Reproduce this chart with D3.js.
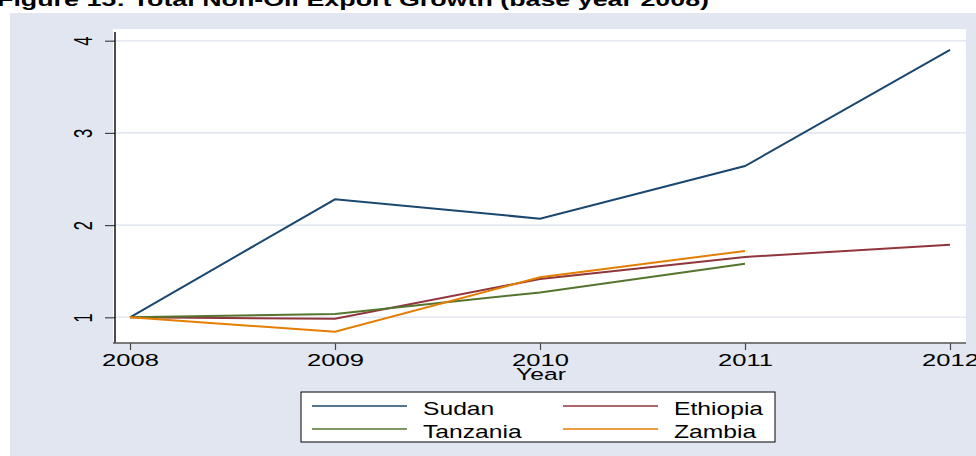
<!DOCTYPE html>
<html>
<head>
<meta charset="utf-8">
<script src="https://cdn.jsdelivr.net/npm/d3@7"></script>
<style>
  body { margin: 0; background: #fff; }
  svg { display: block; font-family: "Liberation Sans", Arial, sans-serif; }
</style>
</head>
<body>
<svg width="976" height="456"></svg>
<script>
// chart data
var years = [2008, 2009, 2010, 2011, 2012];
var yTicks = [1, 2, 3, 4];
var countries = ["Sudan", "Ethiopia", "Tanzania", "Zambia"];
var colors = ["#1a476f", "#90353b", "#55752f", "#e37e00"];
var sudan = [1.0, 2.28, 2.07, 2.64, 3.90];
var ethiopia = [1.0, 0.985, 1.415, 1.654, 1.787];
var tanzania = [1.0, 1.036, 1.27, 1.58, null];
var zambia = [1.0, 0.844, 1.434, 1.72, null];
var seriesValues = [sudan, ethiopia, tanzania, zambia];

var svg = d3.select("svg");
var stretch = 1.55; // the original picture is stretched sideways

// outer region
svg.append("rect").attr("x", 10).attr("y", 13).attr("width", 976).attr("height", 456)
  .attr("fill", "#e1e6f0");

// title, partly cut off at the top
svg.append("text")
  .attr("x", -3).attr("y", 6)
  .attr("font-size", 18).attr("font-weight", "bold")
  .attr("textLength", 712).attr("lengthAdjust", "spacingAndGlyphs")
  .text("Figure 15: Total Non-Oil Export Growth (base year 2008)");

var plot = {left: 113, right: 966, top: 29, bottom: 343};

var x = d3.scaleLinear().domain([2008, 2012]).range([130, 950]);
var y = d3.scaleLinear().domain([1, 4]).range([317.3, 40.7]);

// plot area
svg.append("rect")
  .attr("x", plot.left).attr("y", plot.top)
  .attr("width", plot.right - plot.left).attr("height", plot.bottom - plot.top)
  .attr("fill", "#fff");

// gridlines
svg.selectAll(".grid").data(yTicks).enter().append("line")
  .attr("x1", plot.left).attr("x2", plot.right)
  .attr("y1", function(d) { return y(d); }).attr("y2", function(d) { return y(d); })
  .attr("stroke", "#e3e8f2").attr("stroke-width", 1.6);

// y axis
var yAxis = svg.append("g")
  .attr("transform", "translate(115,0)")
  .call(d3.axisLeft(y).tickValues(yTicks).tickSize(10).tickFormat(""));
yAxis.select(".domain").remove();
yAxis.selectAll(".tick line").attr("stroke", "#444").attr("stroke-width", 1.2);
svg.append("line").attr("x1", 115).attr("x2", 115).attr("y1", plot.top + 3).attr("y2", plot.bottom)
  .attr("stroke", "#111").attr("stroke-width", 1.5);

yAxis.selectAll(".tick").append("text")
  .attr("transform", "translate(-23,0) scale(" + stretch + ",1) rotate(-90)")
  .attr("text-anchor", "middle")
  .attr("fill", "#000").attr("font-size", 16.5)
  .text(function(d) { return d; });

// x axis
var xAxis = svg.append("g")
  .attr("transform", "translate(0," + plot.bottom + ")")
  .call(d3.axisBottom(x).tickValues(years).tickSize(7).tickFormat(""));
xAxis.select(".domain").remove();
xAxis.selectAll(".tick line").attr("stroke", "#444").attr("stroke-width", 1.2);
svg.append("line").attr("x1", plot.left).attr("x2", plot.right).attr("y1", plot.bottom).attr("y2", plot.bottom)
  .attr("stroke", "#555").attr("stroke-width", 1.5);

xAxis.selectAll(".tick").append("text")
  .attr("transform", "translate(0,23) scale(" + stretch + ",1)")
  .attr("text-anchor", "middle")
  .attr("fill", "#000").attr("font-size", 16.5)
  .text(function(d) { return d; });

// axis title
svg.append("text")
  .attr("transform", "translate(541,380) scale(1.45,1)")
  .attr("text-anchor", "middle")
  .attr("font-size", 17)
  .text("Year");

// lines
var line = d3.line()
  .defined(function(d) { return d.v != null; })
  .x(function(d) { return x(d.year); })
  .y(function(d) { return y(d.v); });

seriesValues.forEach(function(vals, i) {
  var pts = years.map(function(yr, j) { return {year: yr, v: vals[j]}; });
  svg.append("path")
    .datum(pts)
    .attr("fill", "none")
    .attr("stroke", colors[i])
    .attr("stroke-width", 2)
    .attr("d", line);
});

// legend
svg.append("rect").attr("x", 301).attr("y", 392).attr("width", 474).attr("height", 50)
  .attr("fill", "#fff").attr("stroke", "#000").attr("stroke-width", 1);

var legendX = [312, 563];
var legendY = [406, 429];
countries.forEach(function(name, i) {
  var lx = legendX[i % 2], ly = legendY[Math.floor(i / 2)];
  svg.append("line").attr("x1", lx).attr("x2", lx + 95).attr("y1", ly).attr("y2", ly)
    .attr("stroke", colors[i]).attr("stroke-width", 1.5);
  svg.append("text")
    .attr("transform", "translate(" + (lx + 111) + "," + (ly + 9) + ") scale(1.37,1)")
    .attr("font-size", 18)
    .text(name);
});
</script>
</body>
</html>
